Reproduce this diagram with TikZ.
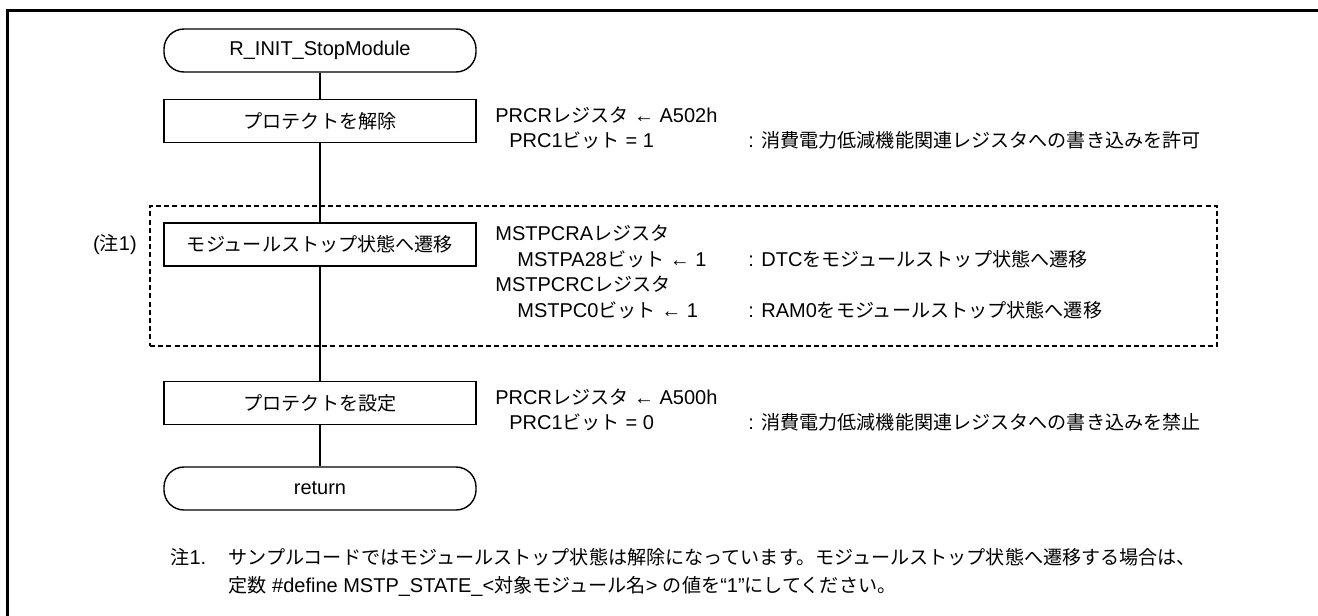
\documentclass[tikz,border=0pt]{standalone}
\usepackage{fontspec}
\usetikzlibrary{fit}
\setmainfont{Liberation Sans}
\newfontfamily\jpfont[Scale=0.955]{Noto Sans CJK JP}
\newcommand\J[1]{{\jpfont #1}}
\begin{document}
\begin{tikzpicture}[x=0.5pt,y=-0.5pt,
  font=\fontsize{10pt}{12pt}\selectfont,
  flowbox/.style={draw,line width=0.7pt,minimum width=156pt,minimum height=21.5pt,inner sep=0pt},
  term/.style={flowbox,rounded corners=10pt},
  proc/.style={flowbox},
  txt/.style={anchor=base west,inner sep=0pt},
  conn/.style={line width=0.7pt},
  grpbox/.style={draw,line width=0.6pt,dash pattern=on 2.5pt off 1.6pt,inner sep=0pt},
  frame/.style={line width=1.5pt}]
\useasboundingbox (0,0) rectangle (1318,616);
% outer frame (only top and left edges lie inside the picture)
\draw[frame] (7.5,616) -- (7.5,10.5) -- (1318,10.5);
% annotations
\node[txt] (a1) at (495,122) {PRCR\J{レジスタ} ← A502h};
\node[txt] (a2) at (509,147) {PRC1\J{ビット} = 1};
\node[txt] (a3) at (748,147) {: \J{消費電力低減機能関連レジスタへの書き込みを許可}};
\node[txt] (m1) at (495,240) {MSTPCRA\J{レジスタ}};
\node[txt] (m2) at (517,266) {MSTPA28\J{ビット} ← 1};
\node[txt] (m3) at (748,266) {: DTC\J{をモジュールストップ状態へ遷移}};
\node[txt] (m4) at (495,291) {MSTPCRC\J{レジスタ}};
\node[txt] (m5) at (517,317) {MSTPC0\J{ビット} ← 1};
\node[txt] (m6) at (748,317) {: RAM0\J{をモジュールストップ状態へ遷移}};
\node[txt] (c1) at (495,404) {PRCR\J{レジスタ} ← A500h};
\node[txt] (c2) at (509,429) {PRC1\J{ビット} = 0};
\node[txt] (c3) at (748,429) {: \J{消費電力低減機能関連レジスタへの書き込みを禁止}};
% group box
\coordinate (gr) at ([xshift=8pt]a3.east);
\node[grpbox,fit={(150,206) (gr |- 0,346)}] (grp) {};
\node[inner sep=0pt] (n1) at (115,244.5) {(\J{注}1)};
% flow nodes
\node[term] (start) at (320,50.5) {R\_INIT\_StopModule};
\node[proc] (b1) at (320,121) {\J{プロテクトを解除}};
\node[proc] (b2) at (320,244.5) {\J{モジュールストップ状態へ遷移}};
\node[proc] (b3) at (320,403) {\J{プロテクトを設定}};
\node[term] (ret) at (320,488.5) {return};
\draw[conn] (start) -- (b1);
\draw[conn] (b1) -- (b2);
\draw[conn] (b2) -- (b3);
\draw[conn] (b3) -- (ret);
% note
\node[txt] (nt0) at (170,564) {\J{注}1.};
\node[txt] (nt1) at (228,564) {\J{サンプルコードではモジュールストップ状態は解除になっています。モジュールストップ状態へ遷移する場合は、}};
\node[txt] (nt2) at (228,592) {\J{定数} \#define MSTP\_STATE\_<\J{対象モジュール名}> \J{の値を}“1”\J{にしてください。}};
\end{tikzpicture}
\end{document}
